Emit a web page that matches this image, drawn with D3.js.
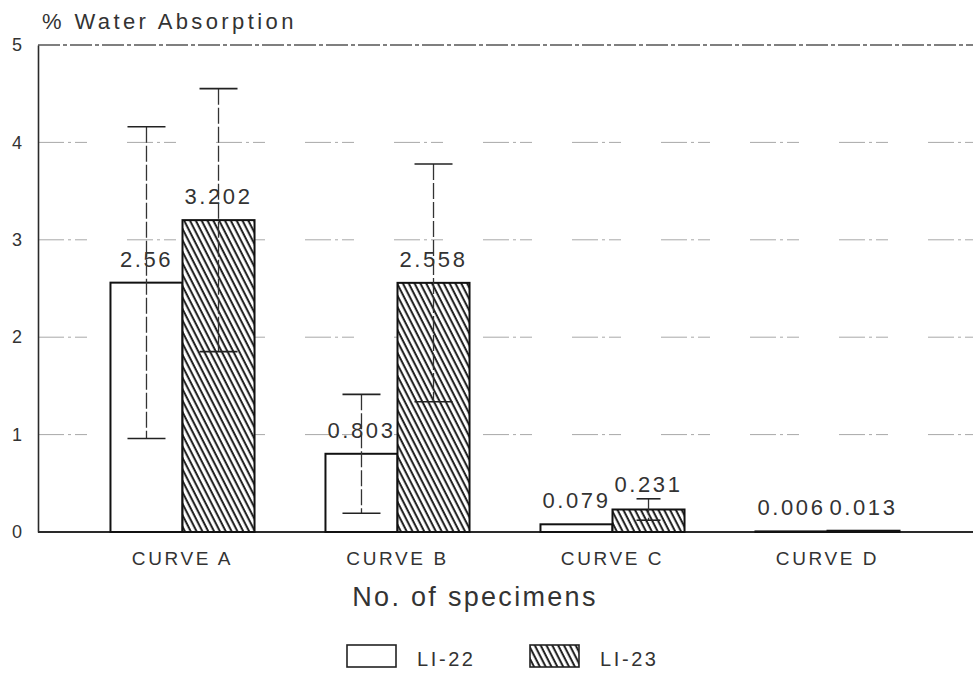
<!DOCTYPE html>
<html>
<head>
<meta charset="utf-8">
<script src="https://cdn.jsdelivr.net/npm/d3@7"></script>
<style>
  html, body { margin: 0; padding: 0; background: #fff; }
  svg { display: block; font-family: "Liberation Sans", Arial, sans-serif; }
</style>
</head>
<body>
<svg id="chart" width="973" height="677"></svg>
<script>
// Water absorption (%) by specimen curve for two laminates
const categories = ["CURVE A", "CURVE B", "CURVE C", "CURVE D"];
const seriesNames = ["LI-22", "LI-23"];
const li22 = [2.56, 0.803, 0.079, 0.006];
const li23 = [3.202, 2.558, 0.231, 0.013];
// half-range of the error bars (0 = no bar drawn)
const li22Err = [1.6, 0.61, 0, 0];
const li23Err = [1.35, 1.22, 0.11, 0];
const yTicks = [0, 1, 2, 3, 4, 5];

const svg = d3.select("#chart");
const plot = { left: 38, right: 973, top: 45, bottom: 532 };
const ink = "#2a2a2a";

const y = d3.scaleLinear().domain([0, 5]).range([plot.bottom, plot.top]);
const x = d3.scaleBand().domain(categories).range([75, 935]).paddingInner(0.33).paddingOuter(0.165);
const xs = d3.scaleBand().domain(seriesNames).range([0, x.bandwidth()]);

// hatch pattern for LI-23
const defs = svg.append("defs");
const pat = defs.append("pattern")
  .attr("id", "hatch").attr("patternUnits", "userSpaceOnUse")
  .attr("width", 5.2).attr("height", 12)
  .attr("patternTransform", "rotate(-27)");
pat.append("rect").attr("width", 5.2).attr("height", 12).attr("fill", "#fff");
pat.append("line").attr("x1", 1.5).attr("x2", 1.5).attr("y1", 0).attr("y2", 12)
  .attr("stroke", "#111").attr("stroke-width", 1.9);

// dashed gridlines
svg.append("g").selectAll("line").data(yTicks.filter(d => d > 0)).join("line")
  .attr("x1", plot.left).attr("x2", plot.right)
  .attr("y1", d => y(d)).attr("y2", d => y(d))
  .attr("stroke", d => d === 5 ? "#555" : "#a8a8a8")
  .attr("stroke-width", d => d === 5 ? 1.4 : 1)
  .attr("stroke-dasharray", d => d === 5 ? "22,3,4,3" : "26,4,3,4,12,40");

// y axis
const yAxis = svg.append("g").attr("transform", `translate(${plot.left},0)`)
  .call(d3.axisLeft(y).tickValues(yTicks).tickSize(0).tickPadding(16).tickFormat(d3.format("d")));
yAxis.select(".domain").attr("stroke", ink).attr("stroke-width", 1.6);
yAxis.selectAll("text").attr("font-size", 18).attr("fill", "#333")
  .attr("font-family", "Liberation Sans, Arial, sans-serif");

// x baseline and category labels
svg.append("line").attr("x1", plot.left).attr("x2", plot.right)
  .attr("y1", y(0)).attr("y2", y(0)).attr("stroke", ink).attr("stroke-width", 1.8);
const xAxis = svg.append("g").attr("transform", `translate(0,${plot.bottom})`)
  .call(d3.axisBottom(x).tickSize(0).tickPadding(20));
xAxis.select(".domain").remove();
xAxis.selectAll("text").attr("font-size", 19).attr("fill", "#333")
  .attr("letter-spacing", 2.6).attr("font-family", "Liberation Sans, Arial, sans-serif");

// bars, error bars and value labels
const rows = [];
categories.forEach((c, i) => {
  rows.push({ cat: c, s: "LI-22", v: li22[i], e: li22Err[i] });
  rows.push({ cat: c, s: "LI-23", v: li23[i], e: li23Err[i] });
});

const g = svg.append("g");
g.selectAll("rect.bar").data(rows).join("rect").attr("class", "bar")
  .attr("x", d => x(d.cat) + xs(d.s))
  .attr("y", d => y(d.v))
  .attr("width", xs.bandwidth())
  .attr("height", d => y(0) - y(d.v))
  .attr("fill", d => d.s === "LI-23" ? "url(#hatch)" : "#fff")
  .attr("stroke", "#111").attr("stroke-width", 2);

const cx = d => x(d.cat) + xs(d.s) + xs.bandwidth() / 2;
const withErr = rows.filter(d => d.e > 0);
const capW = d => d.e < 0.3 ? 24 : 38;
g.selectAll("line.stem").data(withErr).join("line").attr("class", "stem")
  .attr("x1", cx).attr("x2", cx)
  .attr("y1", d => y(d.v + d.e)).attr("y2", d => y(d.v - d.e))
  .attr("stroke", "#333").attr("stroke-width", 1.3).attr("stroke-dasharray", "16,3");
["top", "bot"].forEach(k => {
  g.selectAll("line.cap" + k).data(withErr).join("line").attr("class", "cap" + k)
    .attr("x1", d => cx(d) - capW(d) / 2).attr("x2", d => cx(d) + capW(d) / 2)
    .attr("y1", d => y(k === "top" ? d.v + d.e : d.v - d.e))
    .attr("y2", d => y(k === "top" ? d.v + d.e : d.v - d.e))
    .attr("stroke", "#222").attr("stroke-width", 1.6);
});

g.selectAll("text.val").data(rows).join("text").attr("class", "val")
  .attr("x", cx)
  .attr("y", d => {
    const barLabel = y(d.v) - 16;
    const capTop = y(d.v + d.e);
    return (d.e > 0 && capTop > barLabel - 18) ? capTop - 7 : barLabel;
  })
  .attr("text-anchor", "middle").attr("font-size", 22).attr("letter-spacing", 2.6)
  .attr("fill", "#333").text(d => String(d.v));

// titles
svg.append("text").attr("x", 42).attr("y", 29).attr("font-size", 22)
  .attr("letter-spacing", 3.4).attr("fill", "#333").text("% Water Absorption");
svg.append("text").attr("x", 475).attr("y", 606).attr("text-anchor", "middle")
  .attr("font-size", 27).attr("letter-spacing", 2.3).attr("fill", "#333").text("No. of specimens");

// legend
const legend = svg.append("g");
const legendX = [347, 530];
seriesNames.forEach((s, i) => {
  legend.append("rect").attr("x", legendX[i]).attr("y", 645).attr("width", 49).attr("height", 22)
    .attr("fill", i === 1 ? "url(#hatch)" : "#fff")
    .attr("stroke", "#222").attr("stroke-width", 1.6);
  legend.append("text").attr("x", legendX[i] + 70).attr("y", 666)
    .attr("font-size", 20).attr("letter-spacing", 2.6).attr("fill", "#333").text(s);
});
</script>
</body>
</html>
